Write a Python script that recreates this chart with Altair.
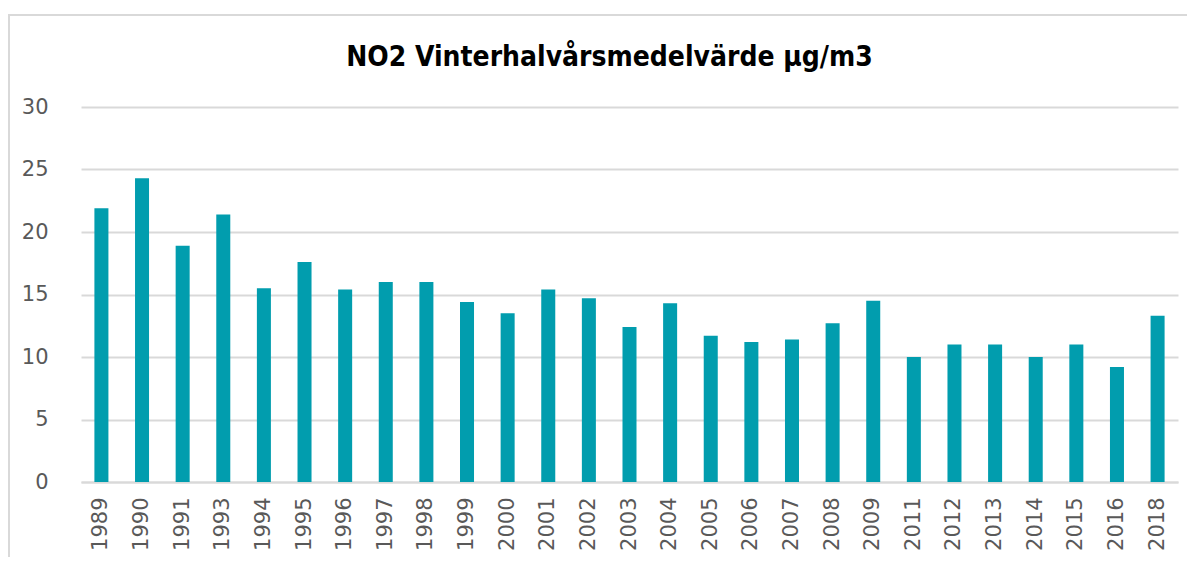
import altair as alt
import pandas as pd

years = ["1989", "1990", "1991", "1993", "1994", "1995", "1996", "1997", "1998", "1999",
         "2000", "2001", "2002", "2003", "2004", "2005", "2006", "2007", "2008", "2009",
         "2011", "2012", "2013", "2014", "2015", "2016", "2018"]
values = [21.9, 24.3, 18.9, 21.4, 15.5, 17.6, 15.4, 16.0, 16.0, 14.4,
          13.5, 15.4, 14.7, 12.4, 14.3, 11.7, 11.2, 11.4, 12.7, 14.5,
          10.0, 11.0, 11.0, 10.0, 11.0, 9.2, 13.3]
y_ticks = [0, 5, 10, 15, 20, 25, 30]
title_text = "NO2 Vinterhalvårsmedelvärde µg/m3"

df = pd.DataFrame({"year": years, "value": values})

W = 1097
H = 375

bars = alt.Chart(df).mark_bar(color="#019DAE").encode(
    x=alt.X("year:N", sort=years,
            scale=alt.Scale(paddingInner=0.655, paddingOuter=0.33),
            axis=alt.Axis(title=None, labelAngle=-90, labelFontSize=21,
                          labelColor="#595959", labelFont="DejaVu Sans",
                          ticks=False, domain=True, domainColor="#D9D9D9",
                          domainWidth=2, labelPadding=15, labelBaseline="middle",
                          labelAlign="right", grid=False)),
    y=alt.Y("value:Q", scale=alt.Scale(domain=[0, 30], nice=False),
            axis=alt.Axis(title=None, values=y_ticks, labelFontSize=21,
                          labelColor="#595959", labelFont="DejaVu Sans",
                          ticks=False, domain=False, gridColor="#D9D9D9",
                          gridWidth=2, labelPadding=33)),
)

border = alt.Chart(pd.DataFrame({"a": [0]})).mark_rect(
    fill=None, stroke="#D9D9D9", strokeWidth=2
).encode(
    x=alt.value(-72), x2=alt.value(W + 40),
    y=alt.value(-92), y2=alt.value(H + 120),
)

title = alt.Chart(pd.DataFrame({"t": [title_text]})).mark_text(
    font="DejaVu Sans Condensed", fontSize=28, fontWeight="bold",
    color="#000000", align="center", baseline="alphabetic"
).encode(
    text="t:N", x=alt.value(W / 2 - 20), y=alt.value(-41),
)

chart = alt.layer(border, bars, title).properties(
    width=W, height=H,
    background="white",
    autosize=alt.AutoSizeParams(type="none"),
    padding={"left": 73, "top": 99, "right": 9, "bottom": 75},
).configure_view(stroke=None, strokeWidth=0)

chart.save("out.html", embed_options={"renderer": "svg", "actions": False})
